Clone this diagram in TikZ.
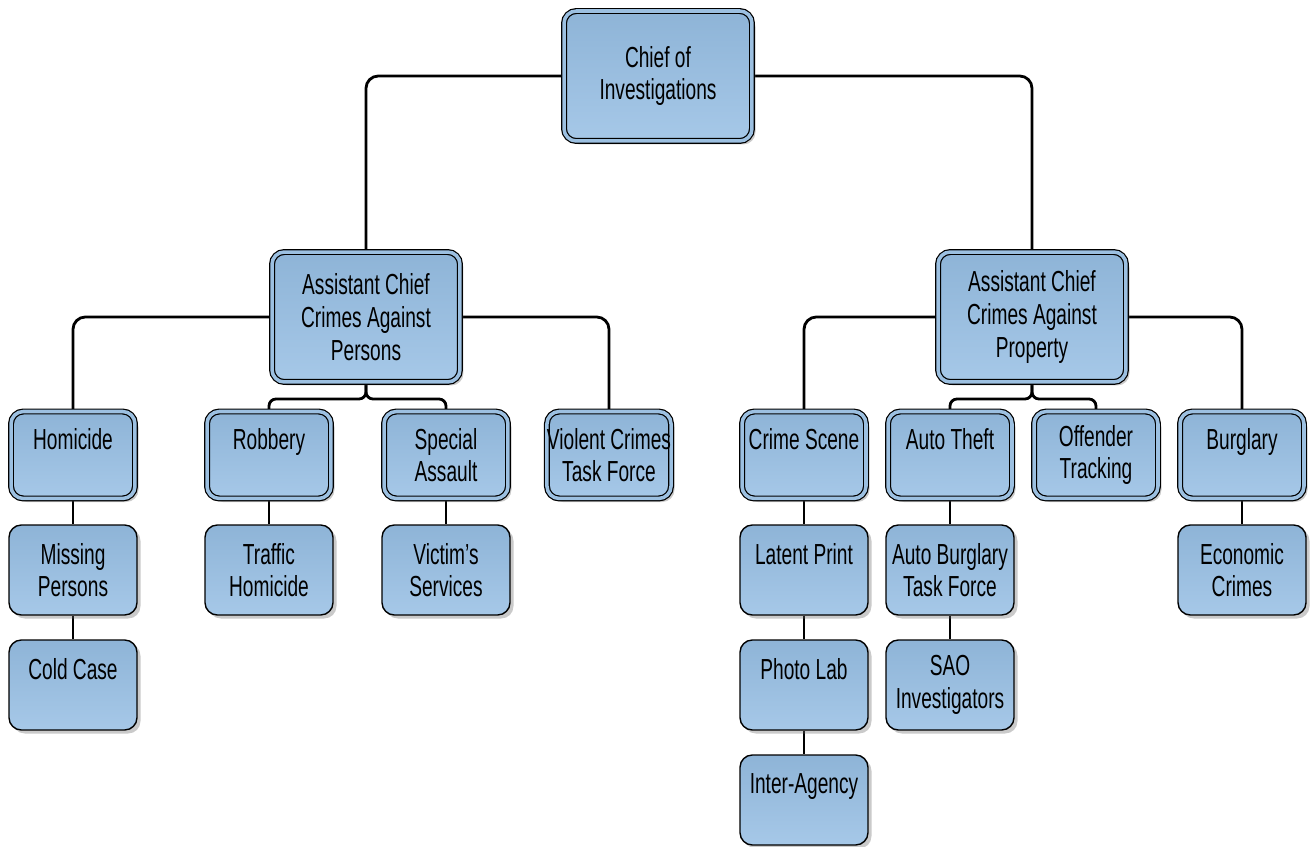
\documentclass[tikz,border=0pt]{standalone}
\usepackage{fontspec}
\setmainfont{Liberation Sans}[FakeStretch=0.66]
\usepackage{tikz}
\usetikzlibrary{shadows, backgrounds}
\definecolor{boxtop}{RGB}{142,180,215}
\definecolor{boxbot}{RGB}{166,200,232}
\definecolor{boxmid}{RGB}{156,192,225}

\begin{document}
\begin{tikzpicture}[x=0.02cm, y=-0.02cm,
    unit/.style={draw, rounded corners=7pt, line width=0.8pt, top color=boxtop, bottom color=boxbot,
                 minimum width=2.56cm, minimum height=1.8cm, inner sep=0pt, align=center,
                 font=\fontsize{16.5}{18.6}\selectfont,
                 drop shadow={shadow xshift=2pt, shadow yshift=-2pt, opacity=0.35, fill=black!60}},
    head/.style={unit, line width=0.7pt, double=boxmid, double distance=2pt,
                 minimum width=2.48cm, minimum height=1.74cm},
    chief/.style={head, minimum width=3.76cm, minimum height=2.6cm},
    link/.style={line width=1.6pt, rounded corners=7pt}]
    \useasboundingbox (0,0) rectangle (1316,847);

    \node[chief] at (658, 76)   (chief) {Chief of\\Investigations};
    \node[chief] at (366, 317)  (persons) {Assistant Chief\\Crimes Against\\Persons};
    \node[chief] at (1032, 317) (property) {Assistant Chief\\Crimes Against\\Property};

    \node[head] at (73, 455)    (homicide) {Homicide\\~};
    \node[head] at (269, 455)   (robbery) {Robbery\\~};
    \node[head] at (446, 455)   (special) {Special\\Assault};
    \node[head] at (609, 455)   (violent) {Violent Crimes\\Task Force};
    \node[head] at (804, 455)   (scene) {Crime Scene\\~};
    \node[head] at (950, 455)   (autotheft) {Auto Theft\\~};
    \node[head] at (1096, 455)  (offender) {Offender\\Tracking};
    \node[head] at (1242, 455)  (burglary) {Burglary\\~};

    \node[unit] at (73, 570)    (missing) {Missing\\Persons};
    \node[unit] at (269, 570)   (traffic) {Traffic\\Homicide};
    \node[unit] at (446, 570)   (victims) {Victim’s\\Services};
    \node[unit] at (804, 570)   (latent) {Latent Print\\~};
    \node[unit] at (950, 570)   (autoburglary) {Auto Burglary\\Task Force};
    \node[unit] at (1242, 570)  (economic) {Economic\\Crimes};

    \node[unit] at (73, 685)    (coldcase) {Cold Case\\~};
    \node[unit] at (804, 685)   (photo) {Photo Lab\\~};
    \node[unit] at (950, 685)   (sao) {SAO\\Investigators};

    \node[unit] at (804, 800)   (interagency) {Inter-Agency\\~};

    \coordinate (pjoin) at (366, 399);
    \coordinate (qjoin) at (1032, 399);

    \begin{scope}[on background layer]
        \draw[link] (chief.west) -| (persons.north);
        \draw[link] (chief.east) -| (property.north);

        \draw[link] (persons.west) -| (homicide.north);
        \draw[link] (persons.east) -| (violent.north);
        \draw[link, rounded corners=4pt] (persons.south) -- (pjoin) -| (robbery.north);
        \draw[link, rounded corners=4pt] (persons.south) -- (pjoin) -| (special.north);

        \draw[link] (property.west) -| (scene.north);
        \draw[link] (property.east) -| (burglary.north);
        \draw[link, rounded corners=4pt] (property.south) -- (qjoin) -| (autotheft.north);
        \draw[link, rounded corners=4pt] (property.south) -- (qjoin) -| (offender.north);

        \draw[link] (homicide) -- (missing);
        \draw[link] (missing) -- (coldcase);
        \draw[link] (robbery) -- (traffic);
        \draw[link] (special) -- (victims);
        \draw[link] (scene) -- (latent);
        \draw[link] (latent) -- (photo);
        \draw[link] (photo) -- (interagency);
        \draw[link] (autotheft) -- (autoburglary);
        \draw[link] (autoburglary) -- (sao);
        \draw[link] (burglary) -- (economic);
    \end{scope}
\end{tikzpicture}
\end{document}
